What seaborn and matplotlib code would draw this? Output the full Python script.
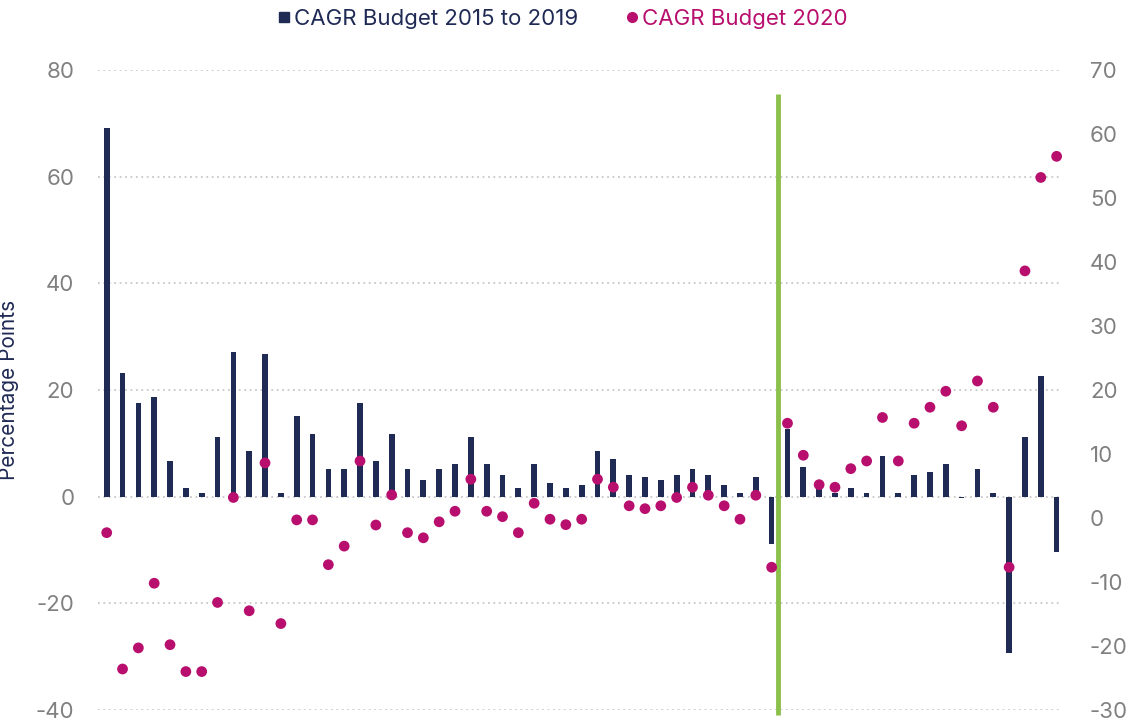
import numpy as np
import pandas as pd
import matplotlib
matplotlib.use("Agg")
import matplotlib.pyplot as plt
from matplotlib.lines import Line2D
import seaborn as sns

# data (61 items, no labels on the x axis)
cagr_2015_2019 = [69.1, 23.1, 17.6, 18.6, 6.6, 1.6, 0.6, 11.1, 27.1, 8.6,
                  26.7, 0.6, 15.2, 11.7, 5.2, 5.2, 17.6, 6.6, 11.7, 5.2,
                  3.2, 5.2, 6.2, 11.1, 6.2, 4.1, 1.6, 6.2, 2.6, 1.6,
                  2.1, 8.6, 7.1, 4.1, 3.6, 3.2, 4.1, 5.2, 4.1, 2.1,
                  0.6, 3.6, -8.8, 12.6, 5.6, 1.5, 0.6, 1.6, 0.6, 7.6,
                  0.6, 4.1, 4.6, 6.2, -0.3, 5.2, 0.6, -29.4, 11.1, 22.7,
                  -10.3]
cagr_2020 = [-2.3, -23.6, -20.3, -10.2, -19.8, -24.0, -24.0, -13.2, 3.2, -14.5,
             8.6, -16.5, -0.3, -0.3, -7.3, -4.4, 8.9, -1.1, 3.6, -2.3,
             -3.1, -0.6, 1.05, 6.05, 1.05, 0.2, -2.3, 2.3, -0.2, -1.05,
             -0.2, 6.05, 4.8, 1.9, 1.45, 1.9, 3.2, 4.8, 3.55, 1.9,
             -0.2, 3.55, -7.7, 14.8, 9.8, 5.2, 4.8, 7.7, 8.9, 15.7,
             8.9, 14.8, 17.3, 19.8, 14.4, 21.4, 17.3, -7.7, 38.6, 53.2,
             56.5]
divider_pos = 42.43
left_ticks = [80, 60, 40, 20, 0, -20, -40]
right_ticks = [70, 60, 50, 40, 30, 20, 10, 0, -10, -20, -30]

navy = "#1f2a55"
magenta = "#b80f6e"
green = "#8cc04b"
grey = "#808080"

df = pd.DataFrame({"pos": np.arange(len(cagr_2015_2019)),
                   "bars": cagr_2015_2019,
                   "dots": cagr_2020})

sns.set_style("white")
plt.rcParams["font.family"] = ["Inter", "DejaVu Sans"]
plt.rcParams["axes.unicode_minus"] = False

fig = plt.figure(figsize=(11.29, 7.21), dpi=100)
ax = fig.add_axes([0.0868, 0.0153, 0.854, 0.8877])

sns.barplot(data=df, x="pos", y="bars", color=navy, width=0.36,
            saturation=1, ax=ax, zorder=2, linewidth=0)
ax.set_xlim(-0.55, 60.35)
ax.set_ylim(-40, 80)
ax.set_yticks(left_ticks)
ax.yaxis.grid(True, color="#c8c8c8", linestyle=(0, (1, 2)), linewidth=1.3)
ax.set_axisbelow(True)
ax.set_xticks([])
ax.set_xlabel("")
ax.set_ylabel("Percentage Points", color=navy, fontsize=15, labelpad=12)
ax.tick_params(axis="y", colors=grey, labelsize=16, length=0, pad=17)
for s in ax.spines.values():
    s.set_visible(False)

ax2 = ax.twinx()
sns.scatterplot(data=df, x="pos", y="dots", color=magenta, s=60,
                edgecolor="none", ax=ax2, zorder=4)
ax2.set_ylim(-30, 70)
ax2.set_yticks(right_ticks)
ax2.set_ylabel("")
ax2.set_xlim(-0.55, 60.35)
ax2.tick_params(axis="y", colors=grey, labelsize=16, length=0, pad=20)
for s in ax2.spines.values():
    s.set_visible(False)

# green divider line
ax.vlines(divider_pos, -41, 75.5, color=green, linewidth=3.5, zorder=3,
          clip_on=False)

handles = [Line2D([], [], marker="s", color=navy, linestyle="none", markersize=7),
           Line2D([], [], marker="o", color=magenta, linestyle="none", markersize=7)]
leg = fig.legend(handles, ["CAGR Budget 2015 to 2019", "CAGR Budget 2020"],
                 loc="center", bbox_to_anchor=(0.497, 0.974), ncol=2,
                 frameon=False, fontsize=16, handletextpad=0.05,
                 columnspacing=2.0, handlelength=0.8)
for txt, c in zip(leg.get_texts(), [navy, magenta]):
    txt.set_color(c)

fig.savefig("out.png", dpi=100)
